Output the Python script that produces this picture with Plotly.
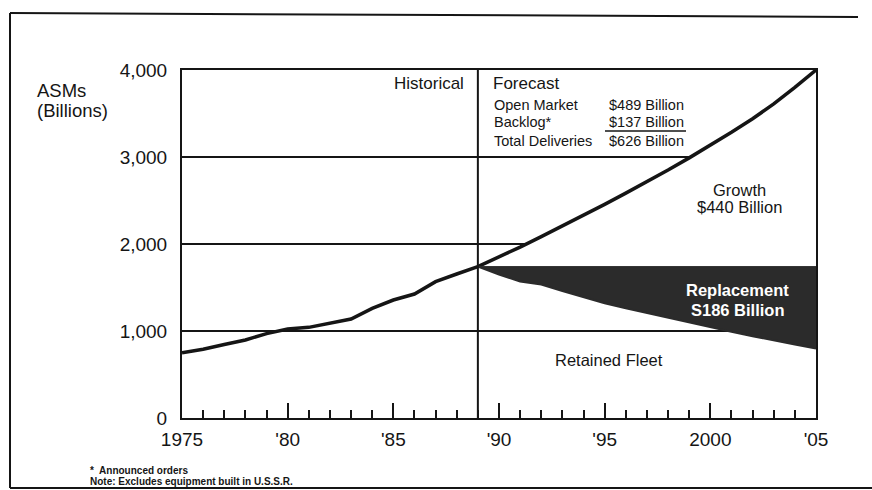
import plotly.graph_objects as go

# ---------------- data ----------------
hist_years = list(range(1975, 1990))
hist_asms = [750, 790, 845, 897, 970, 1023, 1042, 1088, 1138, 1260, 1356, 1425, 1567, 1655, 1740]

fc_years = list(range(1989, 2006))
growth_asms = [1740, 1850, 1965, 2085, 2205, 2330, 2455, 2585, 2715, 2850, 2990,
               3135, 3285, 3440, 3610, 3800, 4000]
retained_asms = [1740, 1650, 1570, 1535, 1460, 1390, 1320, 1260, 1205, 1150, 1095,
                 1040, 990, 940, 890, 845, 800]

x_tickvals = [1975, 1980, 1985, 1990, 1995, 2000, 2005]
x_ticktext = ["1975", "'80", "'85", "'90", "'95", "2000", "'05"]
y_tickvals = [0, 1000, 2000, 3000, 4000]

table_rows = [("Open Market", "$489 Billion"),
              ("Backlog*", "$137 Billion"),
              ("Total Deliveries", "$626 Billion")]

base = [hist_asms[-1]] * len(fc_years)

FONT = "Liberation Sans, Arial, Helvetica, sans-serif"
INK = "#151515"
SHADE = "#2b2b2b"

# pixel geometry helpers (for layout-only items)
L, R, T, B = 182, 816, 70, 418
def px(x):
    return (x - L) / (R - L)
def py(y):
    return (B - y) / (B - T)

fig = go.Figure()

# growth wedge (white, hides grid lines)
fig.add_trace(go.Scatter(x=fc_years, y=base, mode="lines",
                         line=dict(width=0, color="white"), hoverinfo="skip", showlegend=False))
fig.add_trace(go.Scatter(x=fc_years, y=growth_asms, mode="lines", fill="tonexty",
                         fillcolor="white", line=dict(color=INK, width=3.5), showlegend=False))
# replacement wedge (dark)
fig.add_trace(go.Scatter(x=fc_years, y=base, mode="lines",
                         line=dict(width=1, color=SHADE), hoverinfo="skip", showlegend=False))
fig.add_trace(go.Scatter(x=fc_years, y=retained_asms, mode="lines", fill="tonexty",
                         fillcolor=SHADE, line=dict(color=SHADE, width=2), showlegend=False))
# historical line
fig.add_trace(go.Scatter(x=hist_years, y=hist_asms, mode="lines",
                         line=dict(color=INK, width=3.5), showlegend=False))

# historical / forecast divider
fig.add_shape(type="line", xref="x", yref="y", x0=hist_years[-1], x1=hist_years[-1],
              y0=0, y1=4000, line=dict(color=INK, width=2), layer="above")

annos = []
# y axis title
annos.append(dict(text="ASMs", xref="paper", yref="paper", x=px(35), y=py(91),
                  xanchor="left", yanchor="middle", showarrow=False,
                  font=dict(size=18.5, color=INK, family=FONT)))
annos.append(dict(text="(Billions)", xref="paper", yref="paper", x=px(35), y=py(110),
                  xanchor="left", yanchor="middle", showarrow=False,
                  font=dict(size=18.5, color=INK, family=FONT)))
# section headers
annos.append(dict(text="Historical", xref="paper", yref="paper", x=px(466), y=py(83),
                  xanchor="right", yanchor="middle", showarrow=False,
                  font=dict(size=17, color=INK, family=FONT)))
annos.append(dict(text="Forecast", xref="paper", yref="paper", x=px(491), y=py(83),
                  xanchor="left", yanchor="middle", showarrow=False,
                  font=dict(size=17, color=INK, family=FONT)))
row_y = [105, 122, 140.5]
for (lab, val), yy in zip(table_rows, row_y):
    annos.append(dict(text=lab, xref="paper", yref="paper", x=px(492), y=py(yy),
                      xanchor="left", yanchor="middle", showarrow=False,
                      font=dict(size=14.5, color=INK, family=FONT)))
    annos.append(dict(text=val, xref="paper", yref="paper", x=px(686), y=py(yy),
                      xanchor="right", yanchor="middle", showarrow=False,
                      font=dict(size=14.5, color=INK, family=FONT)))
# region labels
annos.append(dict(text="Growth", x=2001.4, y=2620, xref="x", yref="y", showarrow=False,
                  font=dict(size=16.5, color=INK, family=FONT)))
annos.append(dict(text="$440 Billion", x=2001.4, y=2425, xref="x", yref="y", showarrow=False,
                  font=dict(size=16.5, color=INK, family=FONT)))
annos.append(dict(text="<b>Replacement</b>", x=2001.3, y=1471, xref="x", yref="y", showarrow=False,
                  font=dict(size=16.5, color="white", family=FONT)))
annos.append(dict(text="<b>S186 Billion</b>", x=2001.3, y=1241, xref="x", yref="y", showarrow=False,
                  font=dict(size=16.5, color="white", family=FONT)))
annos.append(dict(text="Retained Fleet", x=1995.2, y=667, xref="x", yref="y", showarrow=False,
                  font=dict(size=16.5, color=INK, family=FONT)))
# footnotes
annos.append(dict(text="<b>*  Announced orders</b>", xref="paper", yref="paper", x=px(88), y=py(470),
                  xanchor="left", yanchor="middle", showarrow=False,
                  font=dict(size=10, color=INK, family=FONT)))
annos.append(dict(text="<b>Note: Excludes equipment built in U.S.S.R.</b>", xref="paper", yref="paper",
                  x=px(88), y=py(481), xanchor="left", yanchor="middle", showarrow=False,
                  font=dict(size=10, color=INK, family=FONT)))

shapes = [
    # underline under backlog value
    dict(type="line", xref="paper", yref="paper", x0=px(605), x1=px(686), y0=py(131), y1=py(131),
         line=dict(color=INK, width=1.5)),
    # outer frame (left, top, bottom)
    dict(type="line", xref="paper", yref="paper", x0=px(10), x1=px(10), y0=py(13), y1=py(488),
         line=dict(color=INK, width=2)),
    dict(type="line", xref="paper", yref="paper", x0=px(10), x1=px(858), y0=py(13), y1=py(17),
         line=dict(color=INK, width=2)),
    dict(type="line", xref="paper", yref="paper", x0=px(10), x1=px(872), y0=py(488), y1=py(488),
         line=dict(color=INK, width=2)),
]
for s in shapes:
    fig.add_shape(**s)

fig.update_layout(
    width=872, height=490,
    margin=dict(l=L, r=872 - R, t=T, b=490 - B),
    paper_bgcolor="white", plot_bgcolor="white",
    font=dict(family=FONT, color=INK),
    annotations=annos,
    xaxis=dict(range=[1975, 2005], showgrid=False, zeroline=False,
               showline=True, linecolor=INK, linewidth=2, mirror=True,
               ticks="inside", ticklen=15, tickwidth=2, tickcolor=INK,
               tickvals=x_tickvals, ticktext=x_ticktext,
               tickfont=dict(size=19, color=INK, family=FONT),
               ticklabelstandoff=3,
               minor=dict(ticks="inside", ticklen=8, tickwidth=2, tickcolor=INK,
                          dtick=1, tick0=1975, showgrid=False)),
    yaxis=dict(range=[0, 4000], showgrid=True, gridcolor=INK, gridwidth=1.5,
               zeroline=False, showline=True, linecolor=INK, linewidth=2, mirror=True,
               ticks="", tickvals=y_tickvals, tickformat=",",
               tickfont=dict(size=19, color=INK, family=FONT),
               ticklabelstandoff=9),
)

fig.write_html("out.html", config={"displayModeBar": False},
               post_script="document.body.style.margin='0';document.body.style.overflow='hidden';")
